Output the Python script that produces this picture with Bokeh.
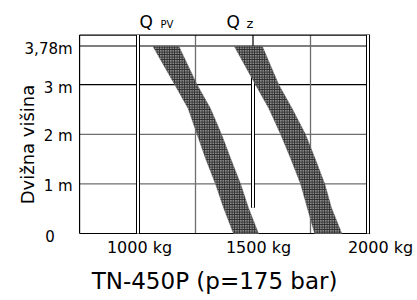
import math
from bokeh.plotting import figure
from bokeh.models import Label, Range1d
from bokeh.embed import file_html
from bokeh.resources import INLINE

# ---- data ----
heights = [3.78, 3.0, 2.52, 2.0, 1.52, 1.0, 0.52, 0.0]          # m
qpv_left = [1064, 1160, 1218, 1257, 1293, 1337, 1372, 1415]      # kg
qpv_right = [1177, 1257, 1315, 1363, 1402, 1446, 1480, 1524]     # kg
qz_left = [1418, 1511, 1569, 1620, 1663, 1707, 1736, 1768]       # kg
qz_right = [1540, 1612, 1670, 1728, 1769, 1812, 1841, 1886]      # kg

major_kg = [1000, 1500, 2000]
minor_kg = [1250, 1750]
x_tick_labels = ["1000 kg", "1500 kg", "2000 kg"]
black_h = [3.78, 3.0]
gray_h = [2.0, 1.0]
y_ticks = [3.78, 3.0, 2.0, 1.0]
y_tick_labels = ["3,78m", "3 m", "2 m", "1 m"]
zero_label = "0"
qz_line_bottom = 0.52
max_height = 3.78

# chart box (data units)
box_x0, box_x1 = 746, 2009
box_y0, box_y1 = 0.0, 4.0

# the frame covers the whole canvas so texts outside the box are not clipped
W, H = 417, 300
PX_PER_KG = 0.23
PX_PER_M = 49.6
x_start = 1000 - 137.5 / PX_PER_KG
x_end = x_start + W / PX_PER_KG
y_end = 233 / PX_PER_M
y_start = y_end - H / PX_PER_M

FONT = "DejaVu Sans"
SHIFT_PER_PX = 0.33  # compensates the renderer's baseline placement

p = figure(width=W, height=H, output_backend="svg", toolbar_location=None,
           x_range=Range1d(x_start, x_end), y_range=Range1d(y_start, y_end),
           min_border=0, min_border_left=0, min_border_right=0,
           min_border_top=0, min_border_bottom=0)
p.xaxis.visible = False
p.yaxis.visible = False
p.xgrid.visible = False
p.ygrid.visible = False
p.outline_line_color = None
p.background_fill_color = "white"
p.border_fill_color = "white"

GRAY = "#6e6e6e"

# horizontal grid lines
p.segment(x0=[box_x0] * len(gray_h), x1=[box_x1] * len(gray_h), y0=gray_h, y1=gray_h,
          line_color=GRAY, line_width=1.3)
p.segment(x0=[box_x0] * len(black_h), x1=[box_x1] * len(black_h), y0=black_h, y1=black_h,
          line_color="black", line_width=1.2)

# minor vertical lines (gray)
p.segment(x0=minor_kg, x1=minor_kg, y0=[box_y0] * 2, y1=[box_y1] * 2,
          line_color=GRAY, line_width=1.3)

# box: left, top, bottom
p.segment(x0=[box_x0, box_x0, box_x0], x1=[box_x0, box_x1, box_x1],
          y0=[box_y0, box_y1, box_y0], y1=[box_y1, box_y1, box_y0],
          line_color="black", line_width=1.2)

# double vertical lines at 1000 and 2000
dbl = [major_kg[0], major_kg[2]]
p.segment(x0=dbl, x1=dbl, y0=[box_y0] * 2, y1=[box_y1] * 2, line_color="black", line_width=4)
p.segment(x0=dbl, x1=dbl, y0=[box_y0] * 2, y1=[box_y1] * 2, line_color="white", line_width=2)
# 1500: single above max height, double below
p.segment(x0=[major_kg[1]], x1=[major_kg[1]], y0=[max_height], y1=[box_y1], line_color="black", line_width=1.2)
p.segment(x0=[major_kg[1]], x1=[major_kg[1]], y0=[qz_line_bottom], y1=[max_height], line_color="black", line_width=4)
p.segment(x0=[major_kg[1]], x1=[major_kg[1]], y0=[qz_line_bottom], y1=[max_height], line_color="white", line_width=2)

# bands
for left, right in [(qpv_left, qpv_right), (qz_left, qz_right)]:
    xs = left + right[::-1]
    ys = heights + heights[::-1]
    p.patch(xs, ys, fill_color="#8a8a8a", line_color="#707070", line_width=0.5,
            hatch_pattern="cross", hatch_color="#2a2a2a", hatch_scale=2.5, hatch_weight=1)


def lab(x, y, dx, dy, text, size, align="left", angle=0.0, shift=True):
    s = SHIFT_PER_PX * size if shift else 0
    p.add_layout(Label(x=x, y=y, x_offset=dx, y_offset=dy + s,
                       text=text, angle=angle,
                       text_font=FONT, text_font_size=f"{size}px", text_baseline="alphabetic",
                       text_align=align, text_color="black"))


# Q labels
lab(major_kg[0], box_y1, 1.5, 7, "Q", 17)
lab(major_kg[0], box_y1, 22.5, 7, "PV", 10)
lab(major_kg[1], box_y1, -26.5, 7, "Q", 17)
lab(major_kg[1], box_y1, -6.5, 7, "z", 13)

# x tick labels
x_label_dx = [1.5, 5.5, 12.5]
for kg, txt, dx in zip(major_kg, x_tick_labels, x_label_dx):
    lab(kg, box_y0, dx, -19.7, txt, 16, align="center")

# y tick labels
y_label_dy = [-7.8, -8.5, -6.2, -7.3]
for h, txt, dy in zip(y_ticks, y_tick_labels, y_label_dy):
    lab(box_x0, h, -7, dy, txt, 15, align="right")
lab(box_x0, box_y0, -29.5, -7.7, zero_label, 15, align="center")

# y axis title
lab(box_x0, box_y0, -52, 89, "Dvižna višina", 18, align="center", angle=math.pi / 2, shift=False)

# bottom title
lab(box_x0, box_y0, 135, -55, "TN-450P (p=175 bar)", 23, align="center")

open("out.html", "w").write(file_html(p, INLINE))
